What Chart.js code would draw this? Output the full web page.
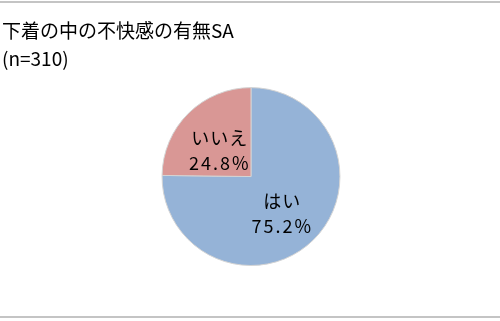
<!DOCTYPE html>
<html>
<head>
<meta charset="utf-8">
<script src="https://cdn.jsdelivr.net/npm/chart.js@4"></script>
<style>
  body { margin: 0; background: #fff; }
  #wrap { position: relative; width: 500px; height: 321px; }
  .rule { position: absolute; left: 0; width: 500px; height: 2px; background: #c4c4c4; }
</style>
</head>
<body>
<div id="wrap">
  <div class="rule" style="top:1px"></div>
  <canvas id="pieChart" width="500" height="321"></canvas>
  <div class="rule" style="top:316px"></div>
</div>
<script>
// --- data ---
const titleLines = ["下着の中の不快感の有無SA", "(n=310)"];
const answers = ["はい", "いいえ"];
const shares = [75.2, 24.8];
const sliceColors = ["#95b3d7", "#d99795"];

// labels drawn inside each slice: name on top, percentage below
const sliceLabels = {
  id: "sliceLabels",
  afterDatasetsDraw(chart) {
    const ctx = chart.ctx;
    const meta = chart.getDatasetMeta(0);
    ctx.save();
    ctx.fillStyle = "#000";
    ctx.font = "18px 'Noto Sans CJK JP'";
    ctx.textAlign = "center";
    ctx.textBaseline = "middle";
    meta.data.forEach((arc, i) => {
      const pos = arc.tooltipPosition();
      ctx.letterSpacing = "1px";
      ctx.fillText(answers[i], pos.x, pos.y - 7);
      ctx.letterSpacing = "2px";
      ctx.fillText(shares[i].toFixed(1) + "%", pos.x, pos.y + 18);
    });
    ctx.restore();
  },
};

const ctx = document.getElementById("pieChart").getContext("2d");

new Chart(ctx, {
  type: "pie",
  data: {
    labels: answers,
    datasets: [{
      data: shares,
      backgroundColor: sliceColors,
      borderColor: "#d4d4d4",
      borderWidth: 1,
    }],
  },
  options: {
    responsive: false,
    animation: false,
    layout: { padding: { top: 0, left: 2, right: 0, bottom: 55 } },
    plugins: {
      legend: { display: false },
      tooltip: { enabled: false },
      title: {
        display: true,
        text: titleLines,
        align: "start",
        color: "#000",
        font: { family: "'Noto Sans CJK JP'", size: 19, weight: "normal", lineHeight: 1.45 },
        padding: { top: 17, bottom: 15 },
      },
    },
  },
  plugins: [sliceLabels],
});
</script>
</body>
</html>
